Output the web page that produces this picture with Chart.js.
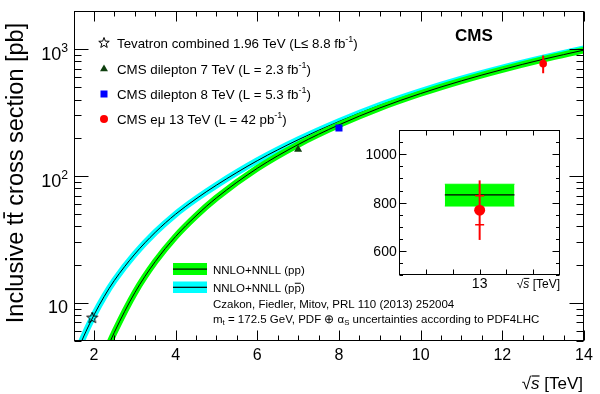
<!DOCTYPE html>
<html>
<head>
<meta charset="utf-8">
<script src="https://cdn.jsdelivr.net/npm/chart.js"></script>
<style>
  html, body { margin: 0; padding: 0; background: #fff; }
  #wrap  { position: relative; width: 600px; height: 394px; }
  #main  { position: absolute; left: 0; top: 0; }
  #inset { position: absolute; left: 360px; top: 120px; }
</style>
</head>
<body>
<div id="wrap">
  <canvas id="main" width="600" height="394"></canvas>
  <canvas id="inset" width="215" height="180"></canvas>
</div>
<script>
const FONT = '"Liberation Sans", Arial, Helvetica, sans-serif';
const GREEN = "#00ff00", CYAN = "#00ffff", RED = "#ff0000", BLUE = "#0000ff", DKGREEN = "#0f400f";

// ── Theory: NNLO+NNLL, pp  (sqrt(s) [TeV], sigma [pb]) ──
const ppEnergy = [2.3, 2.5, 3, 3.5, 4, 4.5, 5, 6, 7, 8, 9, 10, 11, 12, 13, 14];
const ppXsec   = [4.2, 5.85, 12.0, 21.1, 33.3, 48.5, 67.2, 115, 177, 253, 344, 447, 563, 691, 832, 984];

// ── Theory: NNLO+NNLL, p-pbar ──
const ppbarEnergy = [1.6, 1.7, 1.8, 2.0, 2.25, 2.5, 3, 3.5, 4, 4.5, 5, 6, 7, 8, 9, 10, 11, 12, 13, 14];
const ppbarXsec   = [4.2, 5.0, 5.9, 8.0, 11.2, 15.0, 24.2, 35.9, 50, 66, 84.7, 132, 193, 269, 361, 465, 583, 712, 853, 1009];

// ── Measurements ──
const tevEnergy   = [1.96], tevXsec   = [7.60];
const cms7Energy  = [7],    cms7Xsec  = [161.9];
const cms8Energy  = [8],    cms8Xsec  = [239];
const cms13Energy = [13],   cms13Xsec = [769];
const cms13Stat   = [60],   cms13Tot  = [123];

// ── Inset: theory at 13 TeV ──
const insetBandEnergy = [12.87, 13.13];
const insetTheory   = [832, 832];
const insetTheoryHi = [876, 876];
const insetTheoryLo = [786, 786];

// ── Ticks ──
const xMajor      = [2, 4, 6, 8, 10, 12, 14];
const xTickLabels = ["2", "4", "6", "8", "10", "12", "14"];
const yMajor      = [10, 100, 1000];
const yTickLabels = [["10", ""], ["10", "2"], ["10", "3"]];
const yMinor      = [5, 6, 7, 8, 9, 20, 30, 40, 50, 60, 70, 80, 90,
                     200, 300, 400, 500, 600, 700, 800, 900, 2000];
const insetYMajor  = [600, 800, 1000];
const insetYLabels = ["600", "800", "1000"];
const insetYMinor  = [500, 550, 650, 700, 750, 850, 900, 950, 1050, 1100];
const insetXTicks  = [12.8, 12.9, 13, 13.1, 13.2];
const insetXLabels = [{ v: 13, t: "13" }];

// ── Rich text helper (sup / sub / overbar / italic) ──
function seg(p) { return typeof p === "string" ? { t: p } : p; }
function fontFor(p, size) {
  const s = (p.sup || p.sub) ? size * 0.68 : size;
  return (p.it ? "italic " : "") + (p.bold ? "bold " : "") + s + "px " + FONT;
}
function drawRich(ctx, x, y, parts, size, align) {
  parts = parts.map(seg);
  let w = 0;
  parts.forEach(p => { ctx.font = fontFor(p, size); p.w = ctx.measureText(p.t).width; w += p.w; });
  let cx = align === "right" ? x - w : align === "center" ? x - w / 2 : x;
  ctx.textAlign = "left";
  ctx.textBaseline = "alphabetic";
  parts.forEach(p => {
    ctx.font = fontFor(p, size);
    const dy = p.sup ? -size * 0.4 : p.sub ? size * 0.22 : 0;
    ctx.fillText(p.t, cx, y + dy);
    if (p.bar) ctx.fillRect(cx + p.w * 0.05, y - size * (p.it ? 0.8 : 0.84), p.w * 0.95, Math.max(1, size * 0.07));
    cx += p.w;
  });
}

function starPath(ctx, cx, cy, R, r) {
  ctx.beginPath();
  for (let k = 0; k < 10; k++) {
    const a = -Math.PI / 2 + k * Math.PI / 5, rr = k % 2 ? r : R;
    ctx.lineTo(cx + rr * Math.cos(a), cy + rr * Math.sin(a));
  }
  ctx.closePath();
}
const starImg = document.createElement("canvas");
starImg.width = starImg.height = 14;
(function () {
  const c = starImg.getContext("2d");
  starPath(c, 7, 7, 5.8, 2.4);
  c.strokeStyle = "#000"; c.lineWidth = 1; c.stroke();
})();

const xy = (E, S) => E.map((e, i) => ({ x: e, y: S[i] }));

// ── Legend content ──
const legendRows = [
  { mark: "star",     parts: ["Tevatron combined 1.96 TeV (L", "≤ 8.8 fb", { t: "-1", sup: true }, ")"] },
  { mark: "triangle", parts: ["CMS dilepton 7 TeV (L = 2.3 fb", { t: "-1", sup: true }, ")"] },
  { mark: "square",   parts: ["CMS dilepton 8 TeV (L = 5.3 fb", { t: "-1", sup: true }, ")"] },
  { mark: "circle",   parts: ["CMS eμ 13 TeV (L = 42 pb", { t: "-1", sup: true }, ")"] },
];

function drawMarker(ctx, kind, x, y) {
  ctx.save();
  if (kind === "star") {
    starPath(ctx, x, y, 5.5, 2.3); ctx.strokeStyle = "#000"; ctx.lineWidth = 1; ctx.stroke();
  } else if (kind === "triangle") {
    const r = 4.6; ctx.fillStyle = DKGREEN; ctx.beginPath();
    ctx.moveTo(x, y - r); ctx.lineTo(x + r * 0.866, y + r / 2); ctx.lineTo(x - r * 0.866, y + r / 2); ctx.fill();
  } else if (kind === "square") {
    ctx.fillStyle = BLUE; ctx.fillRect(x - 3.5, y - 3.5, 7, 7);
  } else {
    ctx.fillStyle = RED; ctx.beginPath(); ctx.arc(x, y, 4, 0, 2 * Math.PI); ctx.fill();
  }
  ctx.restore();
}

// ── Main chart decorations ──
const mainDeco = {
  id: "mainDeco",
  beforeDatasetDraw(chart, args) {
    if (chart.data.datasets[args.index].label !== "CMS 13") return;
    const { ctx, scales: { x, y } } = chart;
    ctx.save();
    ctx.strokeStyle = RED; ctx.lineWidth = 2;
    cms13Energy.forEach((e, i) => {
      const px = x.getPixelForValue(e);
      ctx.beginPath();
      ctx.moveTo(px, y.getPixelForValue(cms13Xsec[i] - cms13Tot[i]));
      ctx.lineTo(px, y.getPixelForValue(cms13Xsec[i] + cms13Tot[i]));
      ctx.stroke();
    });
    ctx.restore();
  },
  afterDraw(chart) {
    const { ctx, chartArea: a, scales: { x, y } } = chart;
    ctx.save();
    ctx.strokeStyle = "#000"; ctx.fillStyle = "#000"; ctx.lineWidth = 1;
    const L = Math.round(a.left) + 0.5, R = Math.round(a.right) - 0.5;
    const T = Math.round(a.top) + 0.5,  B = Math.round(a.bottom) - 0.5;
    ctx.strokeRect(L, T, R - L, B - T);

    // x ticks (inward, bottom and top)
    ctx.beginPath();
    for (let v = 1.5; v <= 14.001; v += 0.5) {
      const len = xMajor.includes(v) ? 10 : 5;
      const px = Math.round(x.getPixelForValue(v)) + 0.5;
      ctx.moveTo(px, B); ctx.lineTo(px, B - len);
      ctx.moveTo(px, T); ctx.lineTo(px, T + len);
    }
    // y ticks (inward, left and right)
    const yt = yMajor.map(v => [v, 14]).concat(yMinor.map(v => [v, 7]));
    yt.forEach(([v, len]) => {
      const py = Math.round(y.getPixelForValue(v)) + 0.5;
      ctx.moveTo(L, py); ctx.lineTo(L + len, py);
      ctx.moveTo(R, py); ctx.lineTo(R - len, py);
    });
    ctx.stroke();

    // tick labels
    xMajor.forEach((v, i) => drawRich(ctx, x.getPixelForValue(v), 360, [xTickLabels[i]], 16, "center"));
    yMajor.forEach((v, i) => {
      const [base, sup] = yTickLabels[i];
      const parts = sup ? [base, { t: sup, sup: true }] : [base];
      drawRich(ctx, 68, y.getPixelForValue(v) + 10.5, parts, 18, "right");
    });

    // axis titles
    drawRich(ctx, 583, 389, ["√", { t: "s", it: true, bar: true }, " [TeV]"], 17, "right");
    ctx.save();
    ctx.translate(23, 173);
    ctx.rotate(-Math.PI / 2);
    drawRich(ctx, 0, 0, ["Inclusive t", { t: "t", bar: true }, " cross section [pb]"], 23.5, "center");
    ctx.restore();

    // CMS label
    drawRich(ctx, 455, 41, [{ t: "CMS", bold: true }], 17, "left");

    // top-left legend
    const rowsY = [43, 69, 94, 119];
    legendRows.forEach((row, i) => {
      drawMarker(ctx, row.mark, 104, rowsY[i]);
      drawRich(ctx, 117, rowsY[i] + 4.8, row.parts, 13.3, "left");
    });

    // theory legend
    ctx.fillStyle = GREEN;  ctx.fillRect(173, 263, 34, 12);
    ctx.fillStyle = CYAN;   ctx.fillRect(173, 281.5, 34, 11.5);
    ctx.fillStyle = "#000";
    ctx.fillRect(173, 268.5, 34, 1.2);
    ctx.fillRect(173, 286.7, 34, 1.2);
    drawRich(ctx, 213, 274.2, ["NNLO+NNLL (pp)"], 11.5, "left");
    drawRich(ctx, 213, 292.4, ["NNLO+NNLL (p", { t: "p", bar: true }, ")"], 11.5, "left");
    drawRich(ctx, 213, 307.5, ["Czakon, Fiedler, Mitov, PRL 110 (2013) 252004"], 11.5, "left");
    drawRich(ctx, 213, 322.5, ["m", { t: "t", sub: true }, " = 172.5 GeV, PDF ⊕ α", { t: "S", sub: true },
                               " uncertainties according to PDF4LHC"], 11.5, "left");
    ctx.restore();
  }
};

const band = (label, E, S, color, order) => ({
  label, data: xy(E, S), borderColor: color, borderWidth: 6.5, pointRadius: 0,
  fill: false, cubicInterpolationMode: "monotone", clip: 0, order
});
const curve = (label, E, S, order) => ({
  label, data: xy(E, S), borderColor: "#000", borderWidth: 1, pointRadius: 0,
  fill: false, cubicInterpolationMode: "monotone", clip: 0, order
});
const marks = (label, E, S, style, color, r, order) => ({
  label, data: xy(E, S), showLine: false, pointStyle: style, pointRadius: r,
  pointBackgroundColor: color, pointBorderColor: color, pointBorderWidth: 0, clip: 0, order
});

new Chart(document.getElementById("main"), {
  type: "line",
  data: {
    datasets: [
      band("ppbar band", ppbarEnergy, ppbarXsec, CYAN, 10),
      curve("ppbar", ppbarEnergy, ppbarXsec, 9),
      band("pp band", ppEnergy, ppXsec, GREEN, 8),
      curve("pp", ppEnergy, ppXsec, 7),
      marks("CMS 7", cms7Energy, cms7Xsec, "triangle", DKGREEN, 4.6, 4),
      marks("CMS 8", cms8Energy, cms8Xsec, "rect", BLUE, 5, 3),
      marks("CMS 13", cms13Energy, cms13Xsec, "circle", RED, 3.8, 2),
      marks("Tevatron", tevEnergy, tevXsec, starImg, "#000", 5, 1),
    ]
  },
  options: {
    responsive: false, animation: false, events: [],
    layout: { padding: { left: 0, right: 16, top: 11, bottom: 0 } },
    plugins: { legend: { display: false }, tooltip: { enabled: false } },
    scales: {
      x: { type: "linear", min: 1.5, max: 14,
           grid: { display: false }, border: { display: false }, ticks: { display: false },
           afterFit: s => { s.height = 53; } },
      y: { type: "logarithmic", min: 5, max: 2000,
           grid: { display: false }, border: { display: false }, ticks: { display: false },
           afterFit: s => { s.width = 73.5; } }
    }
  },
  plugins: [mainDeco]
});

// ── Inset (13 TeV, linear) ──
const insetDeco = {
  id: "insetDeco",
  beforeDatasetDraw(chart, args) {
    if (chart.data.datasets[args.index].label !== "CMS 13") return;
    const { ctx, scales: { x, y } } = chart;
    ctx.save();
    ctx.strokeStyle = RED;
    cms13Energy.forEach((e, i) => {
      const px = x.getPixelForValue(e);
      ctx.lineWidth = 2;
      ctx.beginPath();
      ctx.moveTo(px, y.getPixelForValue(cms13Xsec[i] - cms13Tot[i]));
      ctx.lineTo(px, y.getPixelForValue(cms13Xsec[i] + cms13Tot[i]));
      ctx.stroke();
      ctx.lineWidth = 1.5;
      ctx.beginPath();
      [cms13Xsec[i] - cms13Stat[i], cms13Xsec[i] + cms13Stat[i]].forEach(v => {
        const py = y.getPixelForValue(v);
        ctx.moveTo(px - 4.5, py); ctx.lineTo(px + 4.5, py);
      });
      ctx.stroke();
    });
    ctx.restore();
  },
  afterDraw(chart) {
    const { ctx, chartArea: a, scales: { x, y } } = chart;
    ctx.save();
    ctx.strokeStyle = "#000"; ctx.fillStyle = "#000"; ctx.lineWidth = 1;
    const L = Math.round(a.left) + 0.5, R = Math.round(a.right) - 0.5;
    const T = Math.round(a.top) + 0.5,  B = Math.round(a.bottom) - 0.5;
    ctx.strokeRect(L, T, R - L, B - T);
    ctx.beginPath();
    insetXTicks.forEach(v => {
      const px = Math.round(x.getPixelForValue(v)) + 0.5;
      ctx.moveTo(px, B); ctx.lineTo(px, B - 5);
      ctx.moveTo(px, T); ctx.lineTo(px, T + 5);
    });
    insetYMajor.map(v => [v, 7]).concat(insetYMinor.map(v => [v, 3.5])).forEach(([v, len]) => {
      const py = Math.round(y.getPixelForValue(v)) + 0.5;
      ctx.moveTo(L, py); ctx.lineTo(L + len, py);
      ctx.moveTo(R, py); ctx.lineTo(R - len, py);
    });
    ctx.stroke();
    insetYMajor.forEach((v, i) => drawRich(ctx, 36.7, y.getPixelForValue(v) + 5, [insetYLabels[i]], 14, "right"));
    insetXLabels.forEach(l => drawRich(ctx, x.getPixelForValue(l.v), 168.3, [l.t], 14, "center"));
    drawRich(ctx, 200, 167.5, ["√", { t: "s", it: true, bar: true }, " [TeV]"], 12, "right");
    ctx.restore();
  }
};

new Chart(document.getElementById("inset"), {
  type: "line",
  data: {
    datasets: [
      marks("CMS 13", cms13Energy, cms13Xsec, "circle", RED, 5.5, 0),
      { label: "theory", data: xy(insetBandEnergy, insetTheory), borderColor: "#000", borderWidth: 1.2,
        pointRadius: 0, fill: false, order: 1 },
      { label: "theory hi", data: xy(insetBandEnergy, insetTheoryHi), borderColor: GREEN, borderWidth: 1,
        backgroundColor: GREEN, pointRadius: 0, fill: "+1", order: 2 },
      { label: "theory lo", data: xy(insetBandEnergy, insetTheoryLo), borderColor: GREEN, borderWidth: 1,
        pointRadius: 0, fill: false, order: 3 },
    ]
  },
  options: {
    responsive: false, animation: false, events: [],
    layout: { padding: { left: 0, right: 15, top: 10, bottom: 0 } },
    plugins: { legend: { display: false }, tooltip: { enabled: false } },
    scales: {
      x: { type: "linear", min: 12.7, max: 13.3,
           grid: { display: false }, border: { display: false }, ticks: { display: false },
           afterFit: s => { s.height = 24.7; } },
      y: { type: "linear", min: 500, max: 1100,
           grid: { display: false }, border: { display: false }, ticks: { display: false },
           afterFit: s => { s.width = 39.3; } }
    }
  },
  plugins: [insetDeco]
});
</script>
</body>
</html>
